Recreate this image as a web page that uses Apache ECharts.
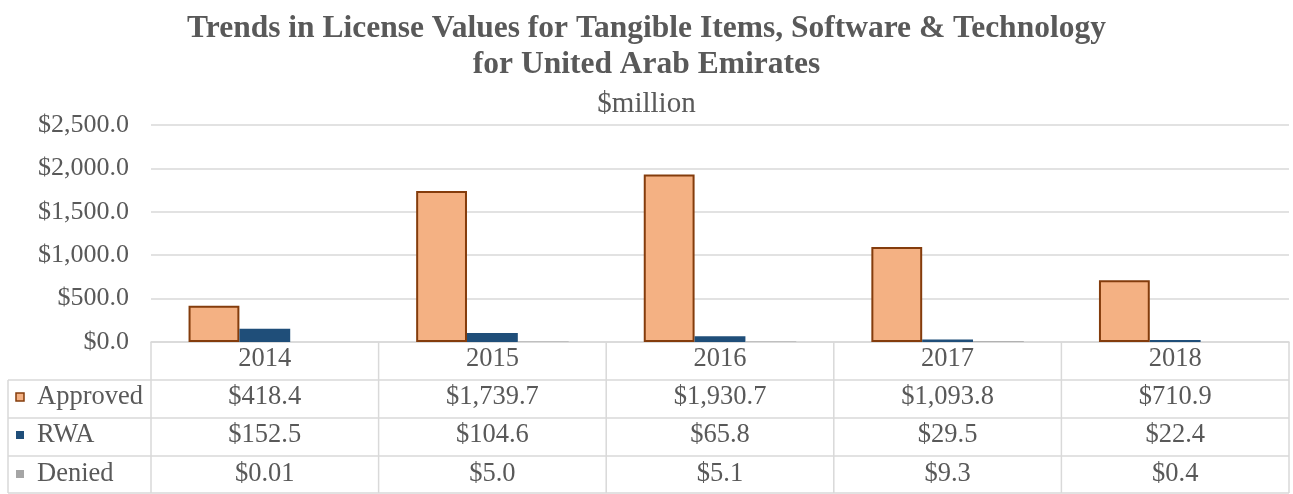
<!DOCTYPE html>
<html>
<head>
<meta charset="utf-8">
<script src="https://cdn.jsdelivr.net/npm/echarts@6/dist/echarts.min.js"></script>
<style>html,body{margin:0;padding:0;background:#fff}#c{width:1293px;height:494px}</style>
</head>
<body>
<div id="c"></div>
<script>
var categories = ['2014', '2015', '2016', '2017', '2018'];
var approved = [418.4, 1739.7, 1930.7, 1093.8, 710.9];
var rwa = [152.5, 104.6, 65.8, 29.5, 22.4];
var denied = [0.01, 5.0, 5.1, 9.3, 0.4];
var seriesNames = ['Approved', 'RWA', 'Denied'];
var yTicks = [0, 500, 1000, 1500, 2000, 2500];

var FONT = '"Liberation Serif", "Times New Roman", serif';
var TXT = '#595959';
var LINE = '#d9d9d9';
var colors = ['#F4B183', '#1F4E79', '#A5A5A5'];

var W = 1293, H = 494;
var L = 151, R = 1289, TOP = 125, AXY = 342;
var rows = [342, 380, 418, 456, 493];
var rowText = [358, 397, 435, 474];
var TL = 8;
var TFS = 26.5;

function fmt(v) {
  var d = v < 0.1 ? 2 : 1;
  return '$' + v.toLocaleString('en-US', {minimumFractionDigits: d, maximumFractionDigits: d});
}

var chart = echarts.init(document.getElementById('c'));
var g = [];
var colW = (R - L) / categories.length;
for (var i = 1; i < rows.length; i++) {
  g.push({type: 'line', shape: {x1: TL, y1: rows[i], x2: R, y2: rows[i]}, style: {stroke: LINE, lineWidth: 1.5}, silent: true});
}
g.push({type: 'line', shape: {x1: TL, y1: rows[1], x2: TL, y2: rows[4]}, style: {stroke: LINE, lineWidth: 1.5}, silent: true});
for (var c = 0; c <= categories.length; c++) {
  var x = L + c * colW;
  g.push({type: 'line', shape: {x1: x, y1: rows[0], x2: x, y2: rows[4]}, style: {stroke: LINE, lineWidth: 1.5}, silent: true});
}
var data = [approved, rwa, denied];
for (var s = 0; s < 3; s++) {
  var cy = rowText[s + 1];
  g.push({type: 'rect', shape: {x: 16, y: cy - 4, width: 8, height: 8},
    style: {fill: colors[s], stroke: s === 0 ? '#843C0C' : colors[s], lineWidth: s === 0 ? 1.5 : 0}, silent: true});
  g.push({type: 'text', x: 37, y: cy, style: {text: seriesNames[s], font: TFS + 'px ' + FONT, fill: TXT, verticalAlign: 'middle', align: 'left'}, silent: true});
  for (var c2 = 0; c2 < categories.length; c2++) {
    g.push({type: 'text', x: L + (c2 + 0.5) * colW, y: cy,
      style: {text: fmt(data[s][c2]), font: TFS + 'px ' + FONT, fill: TXT, verticalAlign: 'middle', align: 'center'}, silent: true});
  }
}

chart.setOption({
  animation: false,
  backgroundColor: '#fff',
  title: [
    {text: 'Trends in License Values for Tangible Items, Software & Technology\nfor United Arab Emirates',
     left: 'center', top: 6,
     textStyle: {fontFamily: FONT, fontWeight: 'bold', fontSize: 31.5, color: TXT, lineHeight: 36}},
    {text: '$million', left: 'center', top: 85,
     textStyle: {fontFamily: FONT, fontWeight: 'normal', fontSize: 29, color: TXT}}
  ],
  grid: {left: L, right: W - R, top: TOP, bottom: H - AXY, containLabel: false},
  xAxis: {
    type: 'category', data: categories,
    axisLine: {show: true, lineStyle: {color: LINE, width: 1.5}},
    axisTick: {show: false},
    axisLabel: {fontFamily: FONT, fontSize: TFS, color: TXT, margin: 4}
  },
  yAxis: {
    type: 'value', min: 0, max: 2500, interval: 500,
    axisLine: {show: false}, axisTick: {show: false},
    splitLine: {lineStyle: {color: LINE, width: 1.5}},
    axisLabel: {fontFamily: FONT, fontSize: 26, color: TXT, margin: 22,
      formatter: function (v) { return '$' + v.toLocaleString('en-US', {minimumFractionDigits: 1, maximumFractionDigits: 1}); }}
  },
  series: [
    {name: seriesNames[0], type: 'bar', data: approved, barGap: '0%', barCategoryGap: '33%',
     itemStyle: {color: colors[0], borderColor: '#843C0C', borderWidth: 2}},
    {name: seriesNames[1], type: 'bar', data: rwa, barGap: '0%', barCategoryGap: '33%',
     itemStyle: {color: colors[1]}},
    {name: seriesNames[2], type: 'bar', data: denied, barGap: '0%', barCategoryGap: '33%',
     itemStyle: {color: colors[2]}}
  ],
  graphic: g
});
</script>
</body>
</html>
